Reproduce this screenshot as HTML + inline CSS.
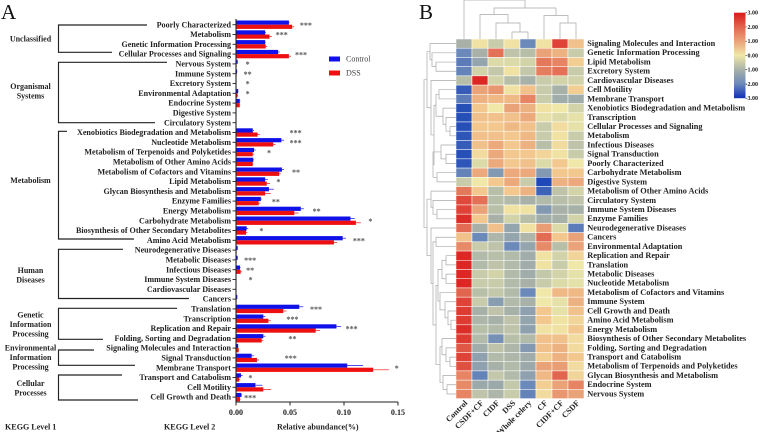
<!DOCTYPE html>
<html lang="en">
<head>
<meta charset="utf-8">
<title>KEGG relative abundance and heatmap</title>
<style>
html,body{margin:0;padding:0;background:#fff;width:762px;height:432px;overflow:hidden}
svg{display:block;filter:blur(.3px)}
text{font-family:"Liberation Serif","DejaVu Serif",serif}
.b{font-weight:bold;font-size:8.1px;fill:#222}
.h{font-weight:bold;font-size:8.3px;fill:#222}
.g{font-weight:bold;font-size:8px;fill:#222;text-anchor:middle}
.br{fill:none;stroke:#222;stroke-width:1.15}
</style>
</head>
<body>
<svg id="fig" xmlns="http://www.w3.org/2000/svg" width="762" height="432" viewBox="0 0 762 432">
  <defs>
    <linearGradient id="cbar" x1="0" y1="0" x2="0" y2="1">
      <stop offset="0" stop-color="#d91a1a"/><stop offset=".167" stop-color="#e2654f"/><stop offset=".333" stop-color="#eaa378"/><stop offset=".5" stop-color="#f0e8a8"/><stop offset=".667" stop-color="#a7b1a8"/><stop offset=".833" stop-color="#6b89b9"/><stop offset="1" stop-color="#0f2fb8"/>
    </linearGradient>
  </defs>
  <rect width="762" height="432" fill="#fff"/>
  <text x="1" y="19" font-size="21" fill="#111">A</text>
  <text x="419" y="19" font-size="21" fill="#111">B</text>

  <g>
    <path class="br" d="M147 25H58.5V52.3H112"/>
    <path class="br" d="M167 62.3H58.5V122.7H155"/>
    <path class="br" d="M67 131.3H58.5V239H134"/>
    <path class="br" d="M123 249.3H58.5V298.5H189"/>
    <path class="br" d="M177 308.3H58.5V339.3H103"/>
    <path class="br" d="M94 350H58.5V365.3H135"/>
    <path class="br" d="M122 375H58.5V400H138"/>
    <text class="g" x="30.5" y="41.5">Unclassified</text>
    <text class="g" x="30.5" y="89">Organismal</text>
    <text class="g" x="30.5" y="98.5">Systems</text>
    <text class="g" x="30.5" y="183">Metabolism</text>
    <text class="g" x="30.5" y="273">Human</text>
    <text class="g" x="30.5" y="282.5">Diseases</text>
    <text class="g" x="30.5" y="317.5">Genetic</text>
    <text class="g" x="30.5" y="327">Information</text>
    <text class="g" x="30.5" y="336.5">Processing</text>
    <text class="g" x="30.5" y="350.5">Environmental</text>
    <text class="g" x="30.5" y="360">Information</text>
    <text class="g" x="30.5" y="369.5">Processing</text>
    <text class="g" x="30.5" y="386">Cellular</text>
    <text class="g" x="30.5" y="395.5">Processes</text>
  </g>

  <g id="bars"></g>

  <g>
    <rect x="329" y="56.5" width="11" height="5" fill="#1010e8"/>
    <text x="346" y="61.5" font-size="8" fill="#444">Control</text>
    <rect x="329" y="70.5" width="11" height="5" fill="#ee1010"/>
    <text x="346" y="75.5" font-size="8" fill="#444">DSS</text>
  </g>

  <text class="b" x="5" y="429.5">KEGG Level 1</text>
  <text class="b" x="164" y="429.5">KEGG Level 2</text>
  <text class="b" x="277" y="429.5">Relative abundance(%)</text>

  <g id="heat"></g>
  <g id="dendro" fill="none" stroke="#a9a9a9" stroke-width=".7"></g>

  <g>
    <rect x="734" y="12.7" width="11.5" height="85.5" fill="url(#cbar)"/>
    <g id="cbticks"></g>
  </g>
</svg>
<script>
// ---------- Bar chart data ----------
const categories = ["Poorly Characterized","Metabolism","Genetic Information Processing","Cellular Processes and Signaling","Nervous System","Immune System","Excretory System","Environmental Adaptation","Endocrine System","Digestive System","Circulatory System","Xenobiotics Biodegradation and Metabolism","Nucleotide Metabolism","Metabolism of Terpenoids and Polyketides","Metabolism of Other Amino Acids","Metabolism of Cofactors and Vitamins","Lipid Metabolism","Glycan Biosynthesis and Metabolism","Enzyme Families","Energy Metabolism","Carbohydrate Metabolism","Biosynthesis of Other Secondary Metabolites","Amino Acid Metabolism","Neurodegenerative Diseases","Metabolic Diseases","Infectious Diseases","Immune System Diseases","Cardiovascular Diseases","Cancers","Translation","Transcription","Replication and Repair","Folding, Sorting and Degradation","Signaling Molecules and Interaction","Signal Transduction","Membrane Transport","Transport and Catabolism","Cell Motility","Cell Growth and Death"];
const controlValues = [.049,.027,.027,.039,.0015,.001,.0005,.002,.0035,.0003,.0002,.0155,.042,.0167,.016,.0425,.027,.0305,.023,.060,.106,.0099,.0988,.0015,.0015,.0037,.0003,.0002,.0012,.0586,.0253,.093,.0253,.002,.0145,.103,.0046,.018,.005];
const dssValues = [.052,.031,.0275,.049,.0005,.0005,.0003,.0015,.0035,.0003,.0002,.020,.0345,.0155,.0155,.040,.0285,.027,.021,.054,.111,.0093,.0907,.0005,.0005,.0043,.0003,.0002,.0005,.0438,.030,.0738,.0238,.0025,.0194,.127,.003,.0253,.0037];
const controlErrors = [.0005,.0008,.0006,.0015,.0002,.0002,.0001,.0004,.0005,.0001,.0001,.0012,.0025,.0015,.0006,.002,.0025,.0045,.001,.0028,.004,.0015,.003,.0002,.0003,.0006,.0001,.0001,.0002,.0037,.002,.0043,.002,.0003,.002,.0147,.0015,.0065,.0006];
const dssErrors = [.0018,.0022,.0015,.002,.0002,.0002,.0001,.0004,.0005,.0001,.0001,.0022,.0022,.0012,.0006,.0015,.003,.0052,.0015,.004,.0046,.0012,.003,.0002,.0003,.0012,.0001,.0001,.0002,.003,.0022,.004,.0015,.0003,.002,.0148,.0009,.0071,.0006];
const sigLabels = ["***","***","","***","*","**","*","*","","","","***","***","*","","**","*","","**","**","*","*","***","","***","**","*","","","***","***","***","**","","***","*","*","","***"];
const sigPositions = [.0647,.0424,0,.0602,.0108,.0108,.0108,.0108,0,0,0,.0552,.0552,.0306,0,.0555,.0392,0,.0369,.0747,.1244,.0235,.1138,0,.0131,.0131,.0134,0,0,.0741,.0522,.1071,.0522,0,.0507,.1488,.0133,0,.0131];
const xTicks = [0,.05,.10,.15];

// ---------- Heatmap data ----------
const heatCols = ["Control","CSDF+CF","CIDF","DSS","Whole celery","CF","CIDF+CF","CSDF"];
const heatRows = ["Signaling Molecules and Interaction","Genetic Information Processing","Lipid Metabolism","Excretory System","Cardiovascular Diseases","Cell Motility","Membrane Transport","Xenobiotics Biodegradation and Metabolism","Transcription","Cellular Processes and Signaling","Metabolism","Infectious Diseases","Signal Transduction","Poorly Characterized","Carbohydrate Metabolism","Digestive System","Metabolism of Other Amino Acids","Circulatory System","Immune System Diseases","Enzyme Families","Neurodegenerative Diseases","Cancers","Environmental Adaptation","Replication and Repair","Translation","Metabolic Diseases","Nucleotide Metabolism","Metabolism of Cofactors and Vitamins","Immune System","Cell Growth and Death","Amino Acid Metabolism","Energy Metabolism","Biosynthesis of Other Secondary Metabolites","Folding, Sorting and Degradation","Transport and Catabolism","Metabolism of Terpenoids and Polyketides","Glycan Biosynthesis and Metabolism","Endocrine System","Nervous System"];
const heatValues = [
[-1.0,.1,-.4,.1,-2,.1,2.5,.6],
[-2,-1,1.8,-.6,-.7,1,.8,-.4],
[-2.2,-1.3,-.2,-.2,-.3,1.7,1.5,.4],
[-2.1,-.3,-.5,.1,-.5,1.6,1.8,-.4],
[-.7,2.9,-.3,-.7,-1,-.4,-.3,-.3],
[-2.7,1,1.2,.1,.6,-.4,-1,.4],
[-2.2,.8,.7,.7,1.5,-.4,-1.1,-1.1],
[-2.9,.5,0,1,.8,.1,0,-.3],
[-2.9,.6,.6,.6,.9,-.1,-.2,-.1],
[-2.9,.5,.5,.7,.6,-.4,.2,-.1],
[-2.8,.6,.6,.5,.7,-.4,.1,-.4],
[-2.7,.6,.9,.5,.8,-.7,.2,-.6],
[-2.9,.2,.9,.5,.5,.3,.1,-.4],
[-2.8,-.2,.9,.5,.6,-.2,.5,0],
[-2.1,.9,-1.6,.9,.9,-1.6,.5,.5],
[-.4,0,.5,.9,-.4,-3,.8,.9],
[1.7,.5,-.7,.5,.8,-2.6,-.6,-.3],
[2.4,1.8,-.7,-.8,-1,-.8,-.7,-.6],
[2.5,1,-.7,.1,.1,-1.6,-1,-1],
[2.8,.5,-1,-.3,-.7,-1.1,-1,-.3],
[1.9,-1,.6,-1.3,.1,1.1,-.2,-2.2],
[.6,-2,-.9,-1.3,-.9,1.9,.5,1],
[1.4,-.4,-.6,-2,-1.3,1.4,-.7,1],
[2.9,-.8,-.7,-.8,-1.1,.1,-.3,.3],
[2.9,-.8,-.6,-.8,-1.1,.1,-.4,0],
[2.9,-.4,-.3,-.8,-1.1,-.5,-.3,-.1],
[2.9,-.4,-.4,-.8,-1,-.4,-.2,-.1],
[2,-.7,-.5,-.8,-2,0,.7,.7],
[2.5,-.4,-1.5,-.8,-1,0,-.1,.8],
[2.6,-1,-.6,-1,-1.4,.5,-.1,.6],
[2.6,-.9,-1,-.6,-1.3,.5,.1,.3],
[2.8,-.7,-.8,-.6,-1.4,.1,.1,.5],
[2.6,-.8,-1.8,-.7,-.8,.6,.6,.2],
[2.2,-1.1,-.6,-.9,-1.6,.6,.8,.2],
[2.5,-1.4,-.8,-.9,-1.1,.4,.8,.5],
[2.3,-1.4,-1,-.8,-1.2,1,1.1,.2],
[1.5,-2.1,-.5,-.8,-1.4,.7,2,.3],
[1.4,-1.2,-1.2,-.5,-2,.4,1,1.5],
[1.5,-.6,-.9,-.4,-2.1,.2,1.2,1]
];
const colorbarTicks = ["3.00","2.00","1.00","0.00","-1.00","-2.00","-3.00"];

const NS = "http://www.w3.org/2000/svg";
function mk(parent, tag, attrs, txt){
  const el = document.createElementNS(NS, tag);
  for (const k in attrs) el.setAttribute(k, attrs[k]);
  if (txt !== undefined) el.textContent = txt;
  parent.appendChild(el);
  return el;
}
function slug(s){ return s.toLowerCase().replace(/[^a-z0-9]+/g,'-'); }

// ---------- Bar chart ----------
const barsG = document.getElementById('bars');
const xScale = v => 236 + v * 1080;
const yRow = i => 24.7 + i * 9.8;
const BAR_H = 4.2;

categories.forEach((c, i) => {
  const y = yRow(i);
  const lab = mk(barsG, 'text', {x: 231, y: y + 2.6, 'text-anchor': 'end', class: 'b'}, c);
  
  
  const tick = mk(barsG, 'line', {x1: 232.5, x2: 236, y1: y, y2: y, stroke: '#222', 'stroke-width': .9});
  
  

  const eb = mk(barsG, 'line', {x1: xScale(controlValues[i]), x2: xScale(controlValues[i] + controlErrors[i]), y1: y - BAR_H / 2, y2: y - BAR_H / 2, stroke: '#1010e8', 'stroke-width': .7});
  
  
  const er = mk(barsG, 'line', {x1: xScale(dssValues[i]), x2: xScale(dssValues[i] + dssErrors[i]), y1: y + BAR_H / 2, y2: y + BAR_H / 2, stroke: '#ee1010', 'stroke-width': .7});
  
  

  const bb = mk(barsG, 'rect', {x: xScale(0), y: y - BAR_H, width: xScale(controlValues[i]) - xScale(0), height: BAR_H, fill: '#1010e8'});
  
  
  const br = mk(barsG, 'rect', {x: xScale(0), y: y, width: xScale(dssValues[i]) - xScale(0), height: BAR_H, fill: '#ee1010'});
  
  

  if (sigLabels[i]) {
    const s = mk(barsG, 'text', {x: xScale(sigPositions[i]), y: y + 3.2, 'text-anchor': 'middle', 'font-size': 8, 'font-weight': 'bold', fill: '#555'}, sigLabels[i]);
    
    
  }
});

const yAxis = mk(barsG, 'line', {x1: 236, x2: 236, y1: 19, y2: 402.5, stroke: '#222', 'stroke-width': 1.1});


const xAxis = mk(barsG, 'line', {x1: xScale(0), x2: xScale(.15), y1: 402, y2: 402, stroke: '#222', 'stroke-width': 1.1});


xTicks.forEach(t => {
  const tk = mk(barsG, 'line', {x1: xScale(t), x2: xScale(t), y1: 402, y2: 405.5, stroke: '#222', 'stroke-width': 1});
  
  
  const tl = mk(barsG, 'text', {x: xScale(t), y: 415, 'text-anchor': 'middle', class: 'b'}, t.toFixed(2));
  
  
});

// ---------- Heatmap ----------
const heatG = document.getElementById('heat');
const colX = j => 456 + j * 16;
const rowY = i => 39 + i * 9.22;
const CW = 16, CH = 9.22;
const ramp = [[-3,[31,72,184]],[-2,[107,137,185]],[-1,[167,177,168]],[-.4,[201,204,170]],[0,[240,232,168]],[.5,[242,200,142]],[1,[234,163,120]],[2,[226,101,79]],[3,[219,32,32]]];
function color(v){
  v = Math.max(-3, Math.min(3, v));
  for (let k = 0; k < ramp.length - 1; k++) {
    const a = ramp[k], b = ramp[k + 1];
    if (v <= b[0]) {
      const t = (v - a[0]) / (b[0] - a[0]);
      return 'rgb(' + a[1].map((c, n) => Math.round(c + (b[1][n] - c) * t)).join(',') + ')';
    }
  }
  return 'rgb(219,32,32)';
}
heatValues.forEach((row, i) => {
  row.forEach((v, j) => {
    const cell = mk(heatG, 'rect', {x: colX(j), y: rowY(i), width: CW, height: CH, fill: color(v), stroke: '#fff', 'stroke-width': .5});
    
    
  });
  const lab = mk(heatG, 'text', {x: 587.3, y: rowY(i) + CH / 2 + 2.4, class: 'h'}, heatRows[i]);
  
  
});
heatCols.forEach((c, j) => {
  const x = colX(j) + CW / 2 + 4, y = 403.5;
  const lab = mk(heatG, 'text', {x: x, y: y, 'text-anchor': 'end', class: 'b', transform: 'rotate(-45 ' + x + ' ' + y + ')'}, c);
  
  
});

// ---------- Colorbar ticks ----------
const cbG = document.getElementById('cbticks');
colorbarTicks.forEach((t, i) => {
  const y = 12.7 + i * 14.25;
  const tk = mk(cbG, 'line', {x1: 745.5, x2: 747, y1: y, y2: y, stroke: '#333', 'stroke-width': .6});
  
  
  const tl = mk(cbG, 'text', {x: t[0] === '-' ? 745.5 : 747.5, y: y + 2, 'font-size': 6, 'font-weight': 'bold', fill: '#222'}, t);
  
  
});

// ---------- Dendrograms ----------
const dG = document.getElementById('dendro');
const leftTree = [424,
  [427,
    [430, 1, [432, 2, [436, 3, 4]]],
    [431, 5,
      [434,
        [436, [439, 6, 7], [443, 8, [446, 9, [450, 10, 11]]]],
        [433, [441, 12, [446, 13, 14]], [437, 15, 16]]
      ]
    ]
  ],
  [427,
    [431, 17, [433, 18, [437, 19, 20]]],
    [431, 21,
      [433,
        [436, 22, 23],
        [436,
          [438,
            [442, [446, 24, 25], [446, 26, 27]],
            [440, 28, [445, 29, [448, 30, [451, 31, 32]]]]
          ],
          [440,
            [442, 33, [446, 34, [450, 35, 36]]],
            [443, 37, [447, 38, 39]]
          ]
        ]
      ]
    ]
  ]
];
const rowC = r => rowY(r - 1) + CH / 2;
function drawLeft(node){
  if (typeof node === 'number') return {x: 456, y: rowC(node)};
  const a = drawLeft(node[1]), b = drawLeft(node[2]);
  const p = mk(dG, 'path', {d: 'M' + a.x + ' ' + a.y + 'H' + node[0] + 'V' + b.y + 'H' + b.x});
  
  
  return {x: node[0], y: (a.y + b.y) / 2};
}
drawLeft(leftTree);
const topTree = [0,
  0,
  [8,
    [14.5, 1, [23, 2, [32, 3, 4]]],
    [15.5, 5, [23, 6, 7]]
  ]
];
const colC = j => colX(j) + CW / 2;
function drawTop(node){
  if (typeof node === 'number') return {x: colC(node), y: 39};
  const a = drawTop(node[1]), b = drawTop(node[2]);
  const p = mk(dG, 'path', {d: 'M' + a.x + ' ' + a.y + 'V' + node[0] + 'H' + b.x + 'V' + b.y});
  
  
  return {x: (a.x + b.x) / 2, y: node[0]};
}
drawTop(topTree);
</script>
</body>
</html>
